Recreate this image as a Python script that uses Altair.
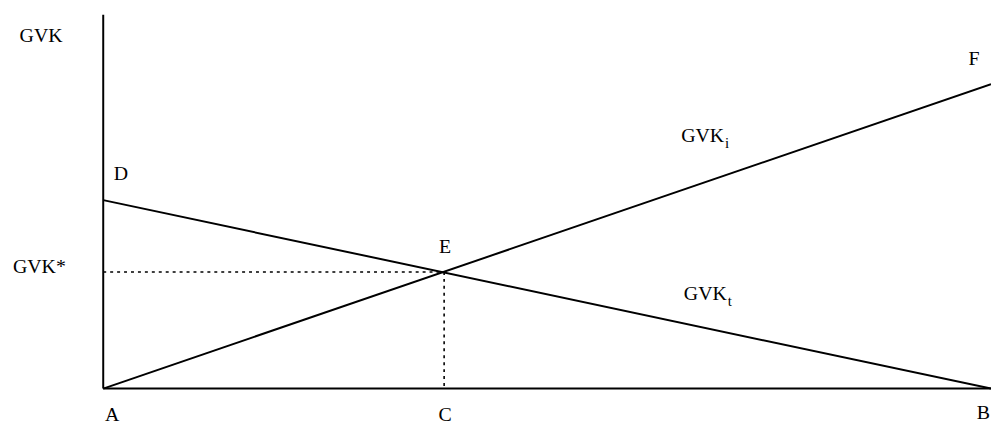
import altair as alt
import pandas as pd

# Curve endpoints (abstract units, x: 0..10, y: 0..10)
line_names = ["GVKi", "GVKi", "GVKt", "GVKt"]
line_x = [0.0, 10.0, 0.0, 10.0]
line_y = [0.0, 8.14, 5.04, 0.0]

# Equilibrium point E
eq_x = 3.84
eq_y = 3.12

# Dotted guide lines
guide_names = ["h", "h", "v", "v"]
guide_x = [0.0, eq_x, eq_x, eq_x]
guide_y = [eq_y, eq_y, eq_y, 0.0]

# Axis lines
axis_x = [0.0, 0.0]
axis_y = [0.0, 0.0]
axis_x2 = [0.0, 10.0]
axis_y2 = [10.0, 0.0]

# Text labels
label_text = ["GVK", "D", "A", "C", "E", "F", "GVK", "GVK"]
label_x = [-0.70, 0.20, 0.10, 3.85, 3.85, 9.81, 6.51, 6.54]
label_y = [9.42, 5.73, -0.72, -0.72, 3.79, 8.81, 6.76, 2.52]
label_align = ["center", "center", "center", "center", "center", "center", "left", "left"]

left_text = ["GVK*", "B"]
left_x = [-1.017, 9.84]
left_y = [3.26, -0.66]

sub_text = ["i", "t"]
sub_x = [7.005, 7.035]
sub_y = [6.58, 2.34]

xs = alt.Scale(domain=[0, 10], nice=False, zero=False)
ys = alt.Scale(domain=[0, 10], nice=False, zero=False)
FONT = "Liberation Serif"

lines_df = pd.DataFrame({"s": line_names, "x": line_x, "y": line_y})
guide_df = pd.DataFrame({"s": guide_names, "x": guide_x, "y": guide_y})
axis_df = pd.DataFrame({"x": axis_x, "y": axis_y, "x2": axis_x2, "y2": axis_y2})
lab_df = pd.DataFrame({"t": label_text, "x": label_x, "y": label_y, "a": label_align})
center_df = lab_df[lab_df["a"] == "center"]
leftlab_df = pd.concat([
    lab_df[lab_df["a"] == "left"][["t", "x", "y"]],
    pd.DataFrame({"t": left_text, "x": left_x, "y": left_y}),
])
sub_df = pd.DataFrame({"t": sub_text, "x": sub_x, "y": sub_y})

axes = alt.Chart(axis_df).mark_rule(color="black", strokeWidth=2).encode(
    x=alt.X("x:Q", scale=xs, axis=None),
    y=alt.Y("y:Q", scale=ys, axis=None),
    x2="x2:Q",
    y2="y2:Q",
)

curves = alt.Chart(lines_df).mark_line(color="black", strokeWidth=2).encode(
    x=alt.X("x:Q", scale=xs, axis=None),
    y=alt.Y("y:Q", scale=ys, axis=None),
    detail="s:N",
)

guides = alt.Chart(guide_df).mark_line(color="black", strokeWidth=1.6, strokeDash=[3, 4]).encode(
    x=alt.X("x:Q", scale=xs, axis=None),
    y=alt.Y("y:Q", scale=ys, axis=None),
    detail="s:N",
)

txt_c = alt.Chart(center_df).mark_text(
    font=FONT, fontSize=20, color="black", align="center", baseline="middle"
).encode(
    x=alt.X("x:Q", scale=xs, axis=None),
    y=alt.Y("y:Q", scale=ys, axis=None),
    text="t:N",
)

txt_l = alt.Chart(leftlab_df).mark_text(
    font=FONT, fontSize=20, color="black", align="left", baseline="middle"
).encode(
    x=alt.X("x:Q", scale=xs, axis=None),
    y=alt.Y("y:Q", scale=ys, axis=None),
    text="t:N",
)

txt_s = alt.Chart(sub_df).mark_text(
    font=FONT, fontSize=15, color="black", align="left", baseline="middle"
).encode(
    x=alt.X("x:Q", scale=xs, axis=None),
    y=alt.Y("y:Q", scale=ys, axis=None),
    text="t:N",
)

chart = alt.layer(axes, curves, guides, txt_c, txt_l, txt_s).properties(
    width=895,
    height=377,
    autosize=alt.AutoSizeParams(type="none"),
    padding={"left": 96, "top": 5, "right": 0, "bottom": 37},
    background="white",
).configure_view(stroke=None).configure_text(font=FONT)

chart.save("out.html", embed_options={"renderer": "svg", "actions": False})
